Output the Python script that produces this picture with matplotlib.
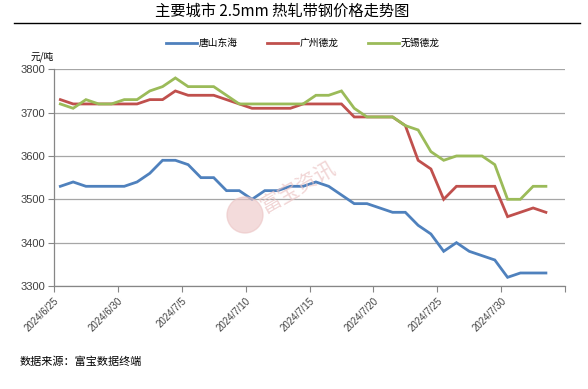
import numpy as np
import pandas as pd
import matplotlib
matplotlib.use('Agg')
import matplotlib.pyplot as plt
from matplotlib.lines import Line2D
from matplotlib.patches import Ellipse

plt.rcParams['font.family'] = ['Noto Sans CJK SC', 'DejaVu Sans']

# daily prices, 2024/6/25 .. 2024/8/2 (yuan/ton)
dates = pd.date_range('2024-06-25', periods=39, freq='D')
tangshan = [3530, 3540, 3530, 3530, 3530, 3530, 3540, 3560, 3590, 3590,
            3580, 3550, 3550, 3520, 3520, 3500, 3520, 3520, 3530, 3530,
            3540, 3530, 3510, 3490, 3490, 3480, 3470, 3470, 3440, 3420,
            3380, 3400, 3380, 3370, 3360, 3320, 3330, 3330, 3330]
guangzhou = [3730, 3720, 3720, 3720, 3720, 3720, 3720, 3730, 3730, 3750,
             3740, 3740, 3740, 3730, 3720, 3710, 3710, 3710, 3710, 3720,
             3720, 3720, 3720, 3690, 3690, 3690, 3690, 3670, 3590, 3570,
             3500, 3530, 3530, 3530, 3530, 3460, 3470, 3480, 3470]
wuxi = [3720, 3710, 3730, 3720, 3720, 3730, 3730, 3750, 3760, 3780,
        3760, 3760, 3760, 3740, 3720, 3720, 3720, 3720, 3720, 3720,
        3740, 3740, 3750, 3710, 3690, 3690, 3690, 3670, 3660, 3610,
        3590, 3600, 3600, 3600, 3580, 3500, 3500, 3530, 3530]
series_names = ['唐山东海', '广州德龙', '无锡德龙']
tick_labels = ['2024/6/25', '2024/6/30', '2024/7/5', '2024/7/10',
               '2024/7/15', '2024/7/20', '2024/7/25', '2024/7/30', '']

colors = ['#4F81BD', '#C0504D', '#9BBB59']

fig = plt.figure(figsize=(5.88, 3.89), dpi=100)
ax = fig.add_axes([0.0918, 0.2648, 0.8692, 0.5571])

x = np.arange(len(dates))
for vals, name, c in zip([tangshan, guangzhou, wuxi], series_names, colors):
    ax.plot(x, vals, color=c, lw=2.0, label=name, solid_joinstyle='miter')

ax.set_ylim(3300, 3800)
ax.set_yticks(np.arange(3300, 3801, 100))
ax.set_xlim(-0.5, 39.5)
ax.set_xticks(np.arange(-0.5, 40, 5))
ax.set_xticklabels(tick_labels, rotation=45, ha='right', va='top',
                   rotation_mode='anchor', fontsize=7, color='#404040',
                   family=['Liberation Sans'])
for lab in ax.get_yticklabels():
    lab.set_family(['Liberation Sans'])
ax.tick_params(axis='y', labelsize=8, colors='#404040', length=4,
               width=0.8, direction='out', pad=2)
ax.tick_params(axis='x', length=4, width=0.8, direction='out', pad=3,
               color='#868686')
ax.tick_params(axis='y', color='#868686')

ax.grid(axis='y', color='#A6A6A6', lw=0.9)
ax.set_axisbelow(True)
for s in ['top', 'right']:
    ax.spines[s].set_visible(False)
for s in ['left', 'bottom']:
    ax.spines[s].set_color('#868686')
    ax.spines[s].set_linewidth(0.9)

# title and rule
fig.text(0.48, 0.972, '主要城市 2.5mm 热轧带钢价格走势图', ha='center',
         va='center', fontsize=11)
fig.add_artist(Line2D([14 / 588, 580 / 588], [1 - 23 / 389] * 2,
                      color='black', lw=1))

fig.legend(loc='center', bbox_to_anchor=(0.515, 1 - 43 / 389), ncol=3,
           frameon=False, fontsize=7, handlelength=3.2, columnspacing=3.0,
           handletextpad=0.2)

fig.text(0.052, 1 - 57 / 389, '元/吨', ha='left', va='center', fontsize=7)
fig.text(20 / 588, 1 - 362 / 389, '数据来源：富宝数据终端', ha='left',
         va='center', fontsize=8)

# watermark
fig.add_artist(Ellipse((245 / 588, 1 - 215 / 389), 36 / 588, 36 / 389,
                       transform=fig.transFigure, color='#EBC4C4',
                       alpha=0.6, zorder=0.5))
fig.text(298 / 588, 1 - 188 / 389, '富宝资讯', ha='center', va='center',
         rotation=30, fontsize=15, color='#EBC4C4', alpha=0.7)

fig.savefig('out.png', dpi=100)
